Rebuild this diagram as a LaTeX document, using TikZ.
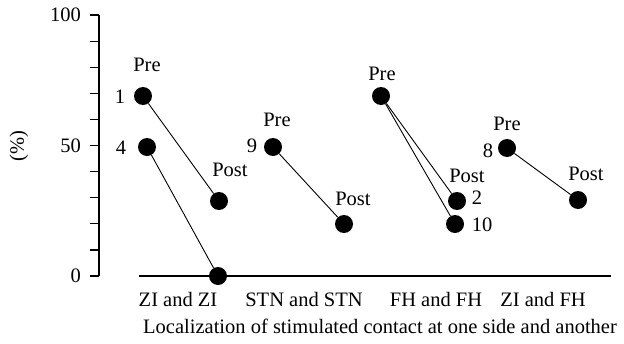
\documentclass[tikz,border=0pt]{standalone}
\usepackage{fontspec}
\setmainfont{Liberation Serif}
\begin{document}
\begin{tikzpicture}[x=1pt,y=-1pt,font=\fontsize{20.5}{23}\selectfont,
  dot/.style={circle,fill=black,inner sep=0pt,minimum size=18pt},
  conn/.style={line width=0.9pt},
  axisline/.style={line width=1.2pt},
  lbl/.style={inner sep=0pt}]
\useasboundingbox (0,0) rectangle (624,343);
% axis
\coordinate (ytop) at (99,15);
\coordinate (ybot) at (99,276);
\draw[axisline] (ytop) -- (ybot);
\foreach \i in {0,...,10} {
  \draw[axisline] (90,{276-26.1*\i}) -- (99,{276-26.1*\i});
}
\node[lbl,anchor=east] (t100) at (81,15) {100};
\node[lbl,anchor=east] (t50) at (81,146) {50};
\node[lbl,anchor=east] (t0) at (81,276) {0};
\node[lbl,rotate=90] (pct) at (19,146) {(\%)};
\coordinate (xl) at (139,276);
\coordinate (xr) at (611,276);
\draw[axisline] (xl) -- (xr);
% dots
\node[dot] (a1) at (143,96) {};
\node[dot] (a4) at (147,147) {};
\node[dot] (a1p) at (219,201) {};
\node[dot] (a4p) at (218,276) {};
\node[dot] (s9) at (273,147) {};
\node[dot] (s9p) at (344,224) {};
\node[dot] (f) at (381,96) {};
\node[dot] (f2) at (457,201) {};
\node[dot] (f10) at (455,224) {};
\node[dot] (z8) at (507,148) {};
\node[dot] (z8p) at (578,200) {};
% connectors
\draw[conn] (a1) -- (a1p);
\draw[conn] (a4) -- (a4p);
\draw[conn] (s9) -- (s9p);
\draw[conn] (f) -- (f2);
\draw[conn] (f) -- (f10);
\draw[conn] (z8) -- (z8p);
% labels
\node[lbl] (pa) at (147,65) {Pre};
\node[lbl] (n1) at (120,97) {1};
\node[lbl] (n4) at (121,148) {4};
\node[lbl] (qa) at (230,170) {Post};
\node[lbl] (ps) at (277,120) {Pre};
\node[lbl] (n9) at (252,146) {9};
\node[lbl] (qs) at (353,199) {Post};
\node[lbl] (pf) at (382,74) {Pre};
\node[lbl] (qf) at (467,176) {Post};
\node[lbl] (n2) at (477,198) {2};
\node[lbl] (n10) at (482,225) {10};
\node[lbl] (pz) at (507,124) {Pre};
\node[lbl] (n8) at (488,151) {8};
\node[lbl] (qz) at (586,174) {Post};
% categories
\node[lbl] (c1) at (178,299) {ZI and ZI};
\node[lbl] (c2) at (304,299) {STN and STN};
\node[lbl] (c3) at (436,299) {FH and FH};
\node[lbl] (c4) at (543,299) {ZI and FH};
\node[lbl] (xt) at (380,326) {Localization of stimulated contact at one side and another};
\end{tikzpicture}
\end{document}
